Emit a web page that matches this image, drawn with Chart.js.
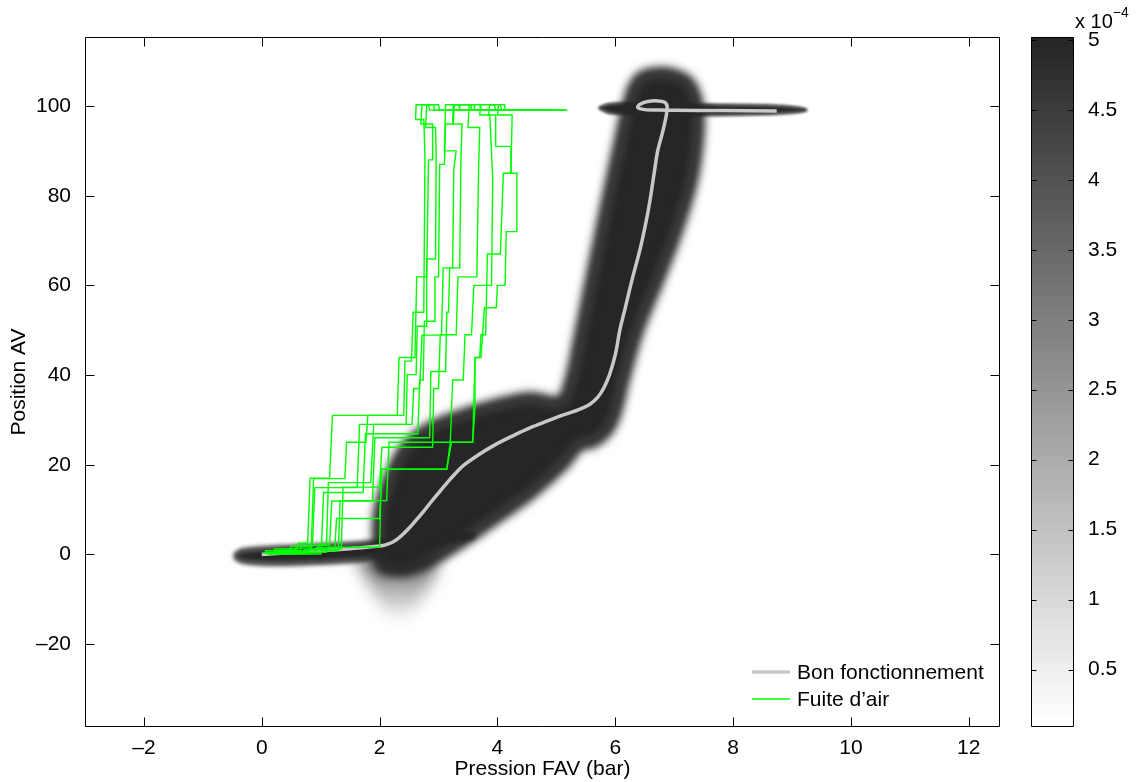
<!DOCTYPE html>
<html lang="fr">
<head>
<meta charset="utf-8">
<title>Pression FAV / Position AV</title>
<script src="https://cdn.jsdelivr.net/npm/chart.js@4"></script>
<style>
  html, body { margin: 0; padding: 0; background: #fff; }
  #cadre { position: relative; width: 1136px; height: 782px; font-family: "Liberation Sans", Arial, Helvetica, sans-serif; }
  #graphe { position: absolute; left: 0; top: 0; }
  #barre { position: absolute; left: 1020px; top: 0; }
  #exposant { position: absolute; left: 1075px; top: 7px; font-size: 20px; color: #000; white-space: nowrap; }
  #exposant sup { font-size: 14px; position: relative; top: -3px; }
</style>
</head>
<body>
<div id="cadre">
  <canvas id="graphe" width="1020" height="782"></canvas>
  <canvas id="barre" width="116" height="782"></canvas>
  <div id="exposant">x 10<sup>−4</sup></div>
</div>
<script>
// Axes
const xTicks = [-2, 0, 2, 4, 6, 8, 10, 12];
const yTicks = [-20, 0, 20, 40, 60, 80, 100];
const barreTicks = [0.5, 1, 1.5, 2, 2.5, 3, 3.5, 4, 4.5, 5];
const barreMin = 0.09;
const barreMax = 5.02;

// Courbe de référence (bon fonctionnement)
const bonFonctionnement = [
  [0.0, 0.0], [0.5, 0.4], [1.0, 0.8], [1.5, 1.27], [1.85, 1.7], [2.06, 2.0], [2.2, 2.6],
  [2.3, 3.4], [2.42, 4.8], [2.51, 6.0], [2.63, 7.8], [2.74, 9.5], [2.88, 11.8], [3.02, 14.0],
  [3.2, 16.8], [3.42, 19.8], [3.7, 22.4], [3.98, 24.6], [4.27, 26.5], [4.55, 28.2], [4.84, 29.7],
  [5.12, 31.1], [5.38, 32.3], [5.57, 33.5], [5.7, 35.0], [5.8, 37.0], [5.9, 40.0], [6.0, 44.5],
  [6.08, 50.2], [6.17, 55.0], [6.28, 61.0], [6.42, 68.0], [6.52, 74.0], [6.59, 79.0], [6.66, 85.0],
  [6.72, 90.0], [6.8, 94.0], [6.86, 97.5], [6.88, 100.0], [6.83, 100.9], [6.72, 101.15],
  [6.55, 101.0], [6.42, 100.4], [6.38, 99.7], [6.5, 99.2], [6.75, 99.1], [7.0, 99.05],
  [7.8, 99.0], [8.74, 98.9]
];

// Essais avec fuite d'air
const fuite1 = [[0.02,0.3],[0.55,0.3],[0.57,1.4],[0.84,1.4],[0.88,16.9],[1.41,16.9],[1.44,25],[1.77,25],[1.8,31],[2.41,31],[2.43,43.1],[2.54,43.1],[2.57,54],[2.75,54],[2.77,89],[2.75,97],[2.61,97],[2.62,100.3],[2.83,100.3],[2.85,99.1],[5.18,99.1]];
const fuite2 = [[0.05,0.5],[0.48,0.5],[0.5,1.8],[0.86,1.8],[0.9,14.9],[1.62,14.9],[1.66,29],[2.45,29],[2.47,40.1],[2.62,40.1],[2.64,50.9],[2.79,50.9],[2.8,65.9],[2.95,65.9],[2.96,89],[2.95,95.2],[2.78,95.2],[2.8,100.3],[3.0,100.3],[3.02,99.1],[4.6,99.1]];
const fuite3 = [[0.1,0.2],[0.7,0.2],[0.72,1.0],[1.01,1.0],[1.05,13.8],[1.72,13.8],[1.76,26.9],[2.65,26.9],[2.68,38.9],[2.74,38.9],[2.76,52],[2.93,52],[2.94,61.9],[3.0,61.9],[3.02,87],[3.1,87],[3.12,96],[3.24,96],[3.25,100.3],[3.55,100.3],[3.56,99.1],[4.8,99.1]];
const fuite4 = [[0.05,0.8],[0.65,0.8],[0.67,2.0],[1.15,2.0],[1.19,11.9],[1.88,11.9],[1.92,26],[2.85,26],[2.87,40.8],[3.12,40.8],[3.14,54],[3.17,54],[3.19,63.9],[3.36,63.9],[3.38,88],[3.4,96],[3.25,96],[3.27,100.3],[3.6,100.3],[3.62,99.1],[5.0,99.1]];
const fuite5 = [[0.15,0.4],[0.9,0.4],[0.92,1.5],[1.24,1.5],[1.27,8],[2.0,8],[2.04,19],[3.14,19],[3.2,25],[3.58,25],[3.62,32.8],[3.62,43.9],[3.7,43.9],[3.72,49],[3.8,49],[3.83,67],[4.05,67],[4.1,85],[4.23,85],[4.25,98],[4.0,98],[4.02,100.3],[4.12,100.3],[4.13,99.1],[5.18,99.1]];
const fuite6 = [[0.2,0.6],[0.8,0.6],[0.82,1.2],[1.35,1.2],[1.38,15],[2.0,15],[2.04,23.9],[2.9,23.9],[2.92,37],[3.0,37],[3.03,49],[3.3,49],[3.33,61.9],[3.65,61.9],[3.68,86],[3.7,95.2],[3.5,95.2],[3.52,100.3],[3.7,100.3],[3.72,99.1],[4.9,99.1]];
const fuite7 = [[0.1,0.1],[1.0,0.1],[1.02,0.8],[1.3,0.8],[1.33,12],[2.12,12],[2.16,25],[3.2,25],[3.24,38.9],[3.42,38.9],[3.45,49],[3.56,49],[3.6,60],[3.9,60],[3.92,84],[3.87,98],[3.7,98],[3.72,100.3],[3.95,100.3],[3.97,99.1],[5.1,99.1]];
const fuite8 = [[0.25,0.5],[1.1,0.5],[1.12,1.6],[2.0,1.6],[2.03,19],[3.14,19],[3.22,25],[3.58,25],[3.62,43.9],[3.72,43.9],[3.78,55],[3.98,55],[4.0,60],[4.13,60],[4.15,72],[4.33,72],[4.33,85],[4.23,85],[4.23,91],[3.97,91],[3.97,98],[3.85,98],[3.87,100.3],[4.05,100.3],[4.07,99.1],[5.18,99.1]];
const fuite9 = [[0.3,0.9],[0.95,0.9],[0.97,2.3],[1.1,2.3],[1.13,16],[1.85,16],[1.9,29],[2.55,29],[2.58,37],[2.68,37],[2.72,48.9],[3.05,48.9],[3.08,63.9],[3.24,63.9],[3.26,86],[3.3,90],[3.1,90],[3.12,100.3],[3.35,100.3],[3.36,99.1],[4.7,99.1]];
const fuite10 = [[0.2,1.2],[0.6,1.2],[0.62,2.5],[0.78,2.5],[0.82,17],[1.15,17],[1.2,31],[2.3,31],[2.33,43.9],[2.6,43.9],[2.63,61.9],[2.8,61.9],[2.83,88],[2.9,88],[2.9,96],[2.7,96],[2.72,100.3],[2.92,100.3],[2.93,99.1],[4.4,99.1]];

// Zones de densité (contours)
const densiteOrigine = [[-0.46,-0.4],[-0.35,0.7],[0.0,1.2],[0.6,1.6],[1.2,2.0],[1.8,2.5],[2.4,3.2],[3.0,3.9],[3.55,4.6],[3.6,4.1],[3.0,2.6],[2.4,1.2],[1.8,-1.0],[1.2,-1.6],[0.6,-1.9],[0.0,-1.9],[-0.35,-1.4],[-0.46,-0.4]];
const densiteBande = [[2.0,-3.0],[2.4,-3.6],[2.85,-1.5],[3.41,3.0],[3.98,8.2],[4.55,13.5],[5.12,20.2],[5.4,24.6],[5.6,25.0],[5.85,27.5],[6.0,31.5],[6.14,39],[6.38,50],[6.72,61],[7.05,72.5],[7.3,83.6],[7.41,94.8],[7.38,101],[7.22,105.5],[6.84,107.3],[6.46,106.5],[6.3,103.6],[6.2,99],[6.05,90],[5.87,79],[5.7,68],[5.53,57],[5.36,45.7],[5.25,39],[5.08,34.0],[4.55,34.8],[3.98,33.3],[3.42,31.1],[2.85,28.1],[2.43,23.5],[2.16,16.5],[2.0,9.3],[1.98,3.3],[2.0,-3.0]];
const densiteHaut = [[5.72,99.6],[5.9,100.4],[6.5,100.6],[7.5,100.3],[8.5,100.1],[9.05,99.7],[9.25,99.1],[9.05,98.6],[8.5,98.2],[7.5,98.0],[6.5,98.1],[5.9,98.5],[5.72,99.6]];
const densiteOmbre = [[1.6,-1],[1.8,-6],[2.0,-11],[2.25,-14.5],[2.5,-14],[2.75,-9],[2.95,-4],[2.9,0],[1.8,0],[1.6,-1]];

Chart.defaults.font.family = '"Liberation Sans", Arial, Helvetica, sans-serif';
Chart.defaults.font.size = 21;
Chart.defaults.color = '#000';

const SOMBRE = '#262626';

function appliquerFlou(chart, index) {
  const ds = index === undefined ? null : chart.data.datasets[index];
  chart.ctx.filter = ds && ds.flou ? `blur(${ds.flou}px)` : 'none';
}

// bords flous des zones de densité
const flou = {
  id: 'flou',
  beforeDatasetsDraw(chart) {
    chart.$ordre = chart.getSortedVisibleDatasetMetas().map(m => m.index).reverse();
    chart.ctx.save();
    appliquerFlou(chart, chart.$ordre[0]);
  },
  afterDatasetDraw(chart, args) {
    const i = chart.$ordre.indexOf(args.index);
    appliquerFlou(chart, chart.$ordre[i + 1]);
  },
  afterDatasetsDraw(chart) {
    chart.ctx.filter = 'none';
    chart.ctx.restore();
  }
};

// boîte et graduations vers l'intérieur, façon MATLAB
const cadre = {
  id: 'cadre',
  afterDraw(chart, args, opts) {
    const { ctx, chartArea: a } = chart;
    const L = opts.longueur;
    const g = Math.round(a.left) + 0.5, d = Math.round(a.right) - 0.5;
    const h = Math.round(a.top) + 0.5, b = Math.round(a.bottom) - 0.5;
    ctx.save();
    ctx.strokeStyle = '#000';
    ctx.lineWidth = 1;
    ctx.beginPath();
    Object.values(chart.scales).forEach(s => {
      if (!s.options.display) return;
      s.ticks.forEach(t => {
        const p = Math.round(s.getPixelForValue(t.value)) + 0.5;
        if (s.isHorizontal()) {
          ctx.moveTo(p, b); ctx.lineTo(p, b - L);
          ctx.moveTo(p, h); ctx.lineTo(p, h + L);
        } else {
          ctx.moveTo(g, p); ctx.lineTo(g + L, p);
          ctx.moveTo(d, p); ctx.lineTo(d - L, p);
        }
      });
    });
    ctx.rect(g, h, d - g, b - h);
    ctx.stroke();
    ctx.restore();
  }
};

// légende dans le coin bas droit
const legende = {
  id: 'legende',
  afterDraw(chart, args, opts) {
    const ctx = chart.ctx;
    ctx.save();
    ctx.font = '21px "Liberation Sans", Arial, sans-serif';
    ctx.textBaseline = 'middle';
    ctx.fillStyle = '#000';
    opts.entrees.forEach((idx, i) => {
      const ds = chart.data.datasets[idx];
      const y = opts.y + i * opts.pas;
      ctx.strokeStyle = ds.borderColor;
      ctx.lineWidth = ds.borderWidth;
      ctx.beginPath();
      ctx.moveTo(opts.x, y);
      ctx.lineTo(opts.x + opts.ligne, y);
      ctx.stroke();
      ctx.fillText(ds.label, opts.x + opts.ligne + 7, y + 1);
    });
    ctx.restore();
  }
};

// zone remplie ; le trait épais élargit la forme avant le flou
function zone(data, ordre, flouPx, bord) {
  return {
    data, order: ordre, fill: 'shape', flou: flouPx,
    backgroundColor: SOMBRE, borderColor: bord ? SOMBRE : 'rgba(0,0,0,0)', borderWidth: bord || 0,
    borderJoinStyle: 'round', pointRadius: 0, tension: 0.3
  };
}

function ombreDegrade(c) {
  const ch = c.chart;
  if (!ch.chartArea || !ch.scales.y) return 'rgba(38,38,38,0.4)';
  const y = ch.scales.y;
  const g = ch.ctx.createLinearGradient(0, y.getPixelForValue(1), 0, y.getPixelForValue(-15));
  g.addColorStop(0, 'rgba(38,38,38,0.8)');
  g.addColorStop(1, 'rgba(38,38,38,0)');
  return g;
}

const fuites = [fuite1, fuite2, fuite3, fuite4, fuite5, fuite6, fuite7, fuite8, fuite9, fuite10];

const datasets = [
  { label: 'Bon fonctionnement', data: bonFonctionnement, order: 1, borderColor: '#c8c8c8',
    borderWidth: 3.5, pointRadius: 0, tension: 0.3, fill: false }
];
fuites.forEach(f => datasets.push({
  label: 'Fuite d’air', data: f, order: 0, borderColor: '#00ff00',
  borderWidth: 1.4, pointRadius: 0, tension: 0, fill: false
}));
const zoneOmbre = zone(densiteOmbre, 4, 8, 0);
zoneOmbre.backgroundColor = ombreDegrade;
datasets.push(zoneOmbre);
datasets.push(zone(densiteBande, 3, 5, 12));
datasets.push(zone(densiteOrigine, 3, 2.5, 4));
datasets.push(zone(densiteHaut, 3, 1.5, 2));

new Chart(document.getElementById('graphe'), {
  type: 'line',
  data: { datasets },
  options: {
    responsive: false,
    animation: false,
    events: [],
    layout: { padding: { top: 37, right: 20, bottom: 0, left: 0 } },
    scales: {
      x: {
        type: 'linear', min: -3, max: 12.53,
        afterBuildTicks: s => { s.ticks = xTicks.map(v => ({ value: v })); },
        afterFit: s => { s.height = 55; },
        grid: { display: false }, border: { display: false },
        ticks: { padding: 1, callback: v => String(v).replace('-', '–') },
        title: { display: true, text: 'Pression FAV (bar)', padding: { top: 0, bottom: 0 } }
      },
      y: {
        type: 'linear', min: -38.5, max: 115.4,
        afterBuildTicks: s => { s.ticks = yTicks.map(v => ({ value: v })); },
        afterFit: s => { s.width = 85; },
        grid: { display: false }, border: { display: false },
        ticks: { padding: 6, callback: v => String(v).replace('-', '–') },
        title: { display: true, text: 'Position AV', padding: { top: 7, bottom: 0 } }
      }
    },
    plugins: {
      legend: { display: false },
      tooltip: { enabled: false },
      cadre: { longueur: 9 },
      legende: { entrees: [0, 1], x: 752, y: 672, pas: 27, ligne: 38 }
    }
  },
  plugins: [flou, cadre, legende]
});

// Barre de couleur
function degradeBarre(c) {
  const ch = c.chart;
  const a = ch.chartArea;
  if (!a) return '#888';
  const g = ch.ctx.createLinearGradient(0, a.bottom, 0, a.top);
  const n = 64;
  for (let k = 0; k < n; k++) {
    const v = Math.round(255 - (255 - 38) * k / (n - 1));
    const col = `rgb(${v},${v},${v})`;
    g.addColorStop(k / n, col);
    g.addColorStop((k + 1) / n, col);
  }
  return g;
}

new Chart(document.getElementById('barre'), {
  type: 'bar',
  data: {
    labels: ['densité'],
    datasets: [{ data: [[barreMin, barreMax]], backgroundColor: degradeBarre, borderWidth: 0,
      barPercentage: 1, categoryPercentage: 1 }]
  },
  options: {
    responsive: false,
    animation: false,
    events: [],
    layout: { padding: { top: 37, right: 0, bottom: 55, left: 11 } },
    scales: {
      x: { display: false },
      y: {
        position: 'right', min: barreMin, max: barreMax,
        afterBuildTicks: s => { s.ticks = barreTicks.map(v => ({ value: v })); },
        afterFit: s => { s.width = 62; },
        grid: { display: false }, border: { display: false },
        ticks: { padding: 6, callback: v => String(v) }
      }
    },
    plugins: {
      legend: { display: false },
      tooltip: { enabled: false },
      cadre: { longueur: 5 }
    }
  },
  plugins: [cadre]
});
</script>
</body>
</html>
